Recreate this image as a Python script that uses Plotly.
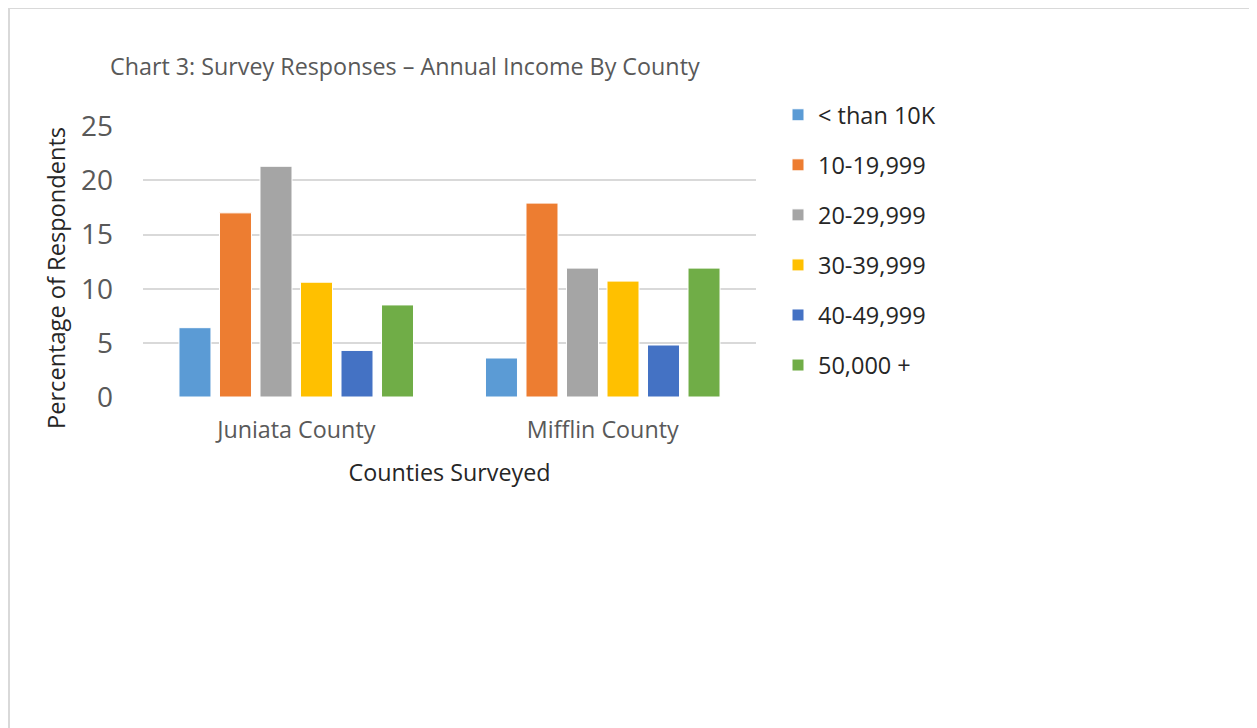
import plotly.graph_objects as go

# ---- data
counties = ["Juniata County", "Mifflin County"]
income_groups = ["< than 10K", "10-19,999", "20-29,999", "30-39,999", "40-49,999", "50,000 +"]
juniata = [6.4, 17.0, 21.3, 10.6, 4.3, 8.5]
mifflin = [3.6, 17.9, 11.9, 10.7, 4.8, 11.9]
colors = ["#5b9bd5", "#ed7d31", "#a5a5a5", "#ffc000", "#4472c4", "#70ad47"]
y_ticks = [0, 5, 10, 15, 20, 25]

FONT = "Open Sans"
# page body has an 8px margin, so the figure is drawn 8px in from the corner
W, H = 1249, 720
L, R, T, B = 135, 1249 - 748, 118, 720 - 389

fig = go.Figure()
for i, grp in enumerate(income_groups):
    fig.add_trace(go.Bar(
        x=counties,
        y=[juniata[i], mifflin[i]],
        name=grp,
        legendgroup=grp,
        marker=dict(color=colors[i], line=dict(color="white", width=1)),
    ))

pw, ph = W - L - R, H - T - B


def px_x(p):
    return (p - L) / pw


def px_y(p):
    return (H - B - p) / ph


fig.update_layout(
    width=W, height=H,
    margin=dict(l=L, r=R, t=T, b=B),
    paper_bgcolor="white", plot_bgcolor="white",
    barmode="group", bargap=0.207, bargroupgap=0.21,
    font=dict(family=FONT, color="#595959"),
    title=dict(
        text="Chart 3: Survey Responses \u2013 Annual Income By County",
        xref="container", x=102 / W, xanchor="left",
        yref="container", y=1 - 59 / H, yanchor="middle",
        font=dict(size=23.3, color="#595959", family=FONT),
    ),
    xaxis=dict(
        showgrid=False, showline=False, zeroline=False,
        tickfont=dict(size=23.3, color="#595959"),
        ticklabelstandoff=17,
        title=dict(text="Counties Surveyed", standoff=20,
                   font=dict(size=23.3, color="#262626")),
    ),
    yaxis=dict(
        range=[0, 25.02], tickvals=y_ticks,
        showgrid=True, gridcolor="#d9d9d9", gridwidth=1.5,
        zeroline=False, showline=False,
        tickfont=dict(size=28, color="#595959"),
        ticklabelstandoff=29,
    ),
    legend=dict(
        x=px_x(770), xanchor="left", y=px_y(85), yanchor="top",
        font=dict(size=23.5, color="#262626"),
        tracegroupgap=16.5, itemwidth=30,
        bgcolor="rgba(0,0,0,0)",
    ),
    annotations=[dict(
        text="Percentage of Respondents", textangle=-90,
        xref="paper", yref="paper", x=px_x(48), y=px_y(270),
        xanchor="center", yanchor="middle", showarrow=False,
        font=dict(size=23.6, color="#262626", family=FONT),
    )],
    shapes=[dict(
        type="rect", xref="paper", yref="paper",
        x0=px_x(1), x1=px_x(1246), y0=px_y(740), y1=px_y(0),
        line=dict(color="#d9d9d9", width=2), layer="below",
    )],
)

fig.write_html("out.html")
